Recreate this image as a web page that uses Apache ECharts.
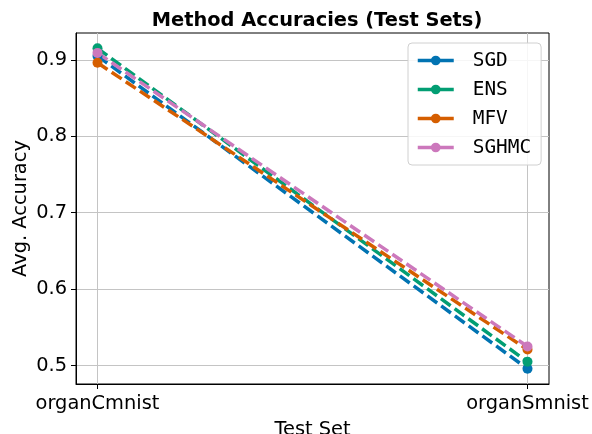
<!DOCTYPE html>
<html>
<head>
<meta charset="utf-8">
<script src="https://cdn.jsdelivr.net/npm/echarts@6/dist/echarts.min.js"></script>
<style>
  html, body { margin: 0; padding: 0; background: #fff; }
  #chart { width: 592px; height: 434px; }
</style>
</head>
<body>
<div id="chart"></div>
<script>
  // test sets on the x axis
  var categories = ["organCmnist", "organSmnist"];
  var sgd = [0.905, 0.496];
  var ens = [0.915, 0.505];
  var mfv = [0.896, 0.521];
  var sghmc = [0.909, 0.525];
  var yTicks = [0.5, 0.6, 0.7, 0.8, 0.9];

  var font = "DejaVu Sans";
  var fs = 19.4;

  function makeSeries(name, vals, color) {
    return {
      name: name,
      type: "line",
      data: vals.map(function (v, i) { return [i, v]; }),
      symbol: "circle",
      symbolSize: 10,
      itemStyle: { color: color },
      lineStyle: { color: color, width: 3.5, type: [12, 5] },
      animation: false
    };
  }

  var chart = echarts.init(document.getElementById("chart"));
  chart.setOption({
    backgroundColor: "#fff",
    title: {
      text: "Method Accuracies (Test Sets)",
      left: 312, top: 6, textAlign: "center",
      textStyle: { fontFamily: font, fontWeight: "bold", fontSize: fs, color: "#000" }
    },
    grid: {
      left: 76, right: 43, top: 33, bottom: 50,
      outerBoundsMode: "none", containLabel: false,
      show: true, borderColor: "#000", borderWidth: 1
    },
    legend: {
      orient: "vertical",
      left: 408, top: 43,
      padding: [8, 10, 8, 8],
      itemWidth: 36, itemHeight: 12, itemGap: 10,
      backgroundColor: "rgba(255,255,255,0.85)",
      borderColor: "#d0d0d0", borderWidth: 1, borderRadius: 4,
      lineStyle: { type: "solid", width: 3.5 },
      textStyle: { fontFamily: "DejaVu Sans Mono", fontSize: fs, color: "#000", padding: [0, 0, 0, 14] },
      data: ["SGD", "ENS", "MFV", "SGHMC"]
    },
    xAxis: {
      type: "value",
      min: -0.05, max: 1.05,
      name: "Test Set", nameLocation: "middle", nameGap: 36,
      nameMoveOverlap: false,
      nameTextStyle: { fontFamily: font, fontSize: fs, color: "#000" },
      axisLine: { show: true, onZero: false, lineStyle: { color: "#000", width: 1 } },
      axisTick: { show: true, length: 5, lineStyle: { color: "#000" }, customValues: [0, 1] },
      axisLabel: {
        fontFamily: font, fontSize: fs, color: "#000", margin: 10,
        customValues: [0, 1],
        formatter: function (v) { return categories[Math.round(v)]; }
      },
      splitLine: { show: true, lineStyle: { color: "#c4c4c4", width: 1 } }
    },
    yAxis: {
      type: "value",
      min: 0.476, max: 0.935,
      name: "Avg. Accuracy", nameLocation: "middle", nameGap: 46,
      nameMoveOverlap: false,
      nameTextStyle: { fontFamily: font, fontSize: fs, color: "#000" },
      axisLine: { show: true, onZero: false, lineStyle: { color: "#000", width: 1 } },
      axisTick: { show: true, length: 5, lineStyle: { color: "#000" }, customValues: yTicks },
      axisLabel: {
        fontFamily: font, fontSize: fs, color: "#000", margin: 9,
        customValues: yTicks,
        formatter: function (v) { return v.toFixed(1); }
      },
      splitLine: { show: true, lineStyle: { color: "#c4c4c4", width: 1 } }
    },
    series: [
      makeSeries("SGD", sgd, "#0173b2"),
      makeSeries("ENS", ens, "#029e73"),
      makeSeries("MFV", mfv, "#d55e00"),
      makeSeries("SGHMC", sghmc, "#cc78bc")
    ]
  });
</script>
</body>
</html>
